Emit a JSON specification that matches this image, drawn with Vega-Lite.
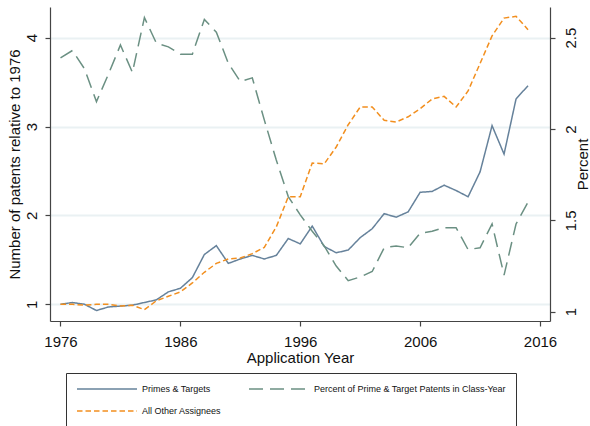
{
  "$schema": "https://vega.github.io/schema/vega-lite/v6.json",
  "width": 500,
  "height": 314,
  "autosize": {"type": "none"},
  "padding": {"left": 50, "top": 7, "right": 40, "bottom": 105},
  "background": "white",
  "config": {
    "view": {"stroke": null},
    "font": "Liberation Sans",
    "axis": {"domainColor": "#444", "tickColor": "#444", "labelColor": "#111", "titleColor": "#111", "labelFontSize": 15, "titleFontSize": 15, "titleFontWeight": "normal", "tickSize": 5, "domainWidth": 1.2, "tickWidth": 1.2},
    "legend": {
      "title": null, "orient": "none", "legendX": 16, "legendY": 366,
      "columns": 2, "symbolType": "M-1,0H11", "symbolSize": 100, "symbolStrokeWidth": 1.5,
      "labelFontSize": 9, "labelColor": "#111", "labelOffset": 54,
      "strokeColor": "#333", "padding": 10, "columnPadding": 24, "rowPadding": 11,
      "fillColor": "white", "labelLimit": 400
    }
  },
  "datasets": {
    "main": [
      {"year":1976,"p":1.00,"o":1.00,"c":2.39},
      {"year":1977,"p":1.02,"o":1.00,"c":2.43},
      {"year":1978,"p":1.00,"o":0.99,"c":2.33},
      {"year":1979,"p":0.93,"o":1.00,"c":2.15},
      {"year":1980,"p":0.97,"o":1.00,"c":2.30},
      {"year":1981,"p":0.98,"o":0.98,"c":2.46},
      {"year":1982,"p":0.99,"o":0.99,"c":2.31},
      {"year":1983,"p":1.02,"o":0.94,"c":2.61},
      {"year":1984,"p":1.05,"o":1.04,"c":2.47},
      {"year":1985,"p":1.14,"o":1.09,"c":2.45},
      {"year":1986,"p":1.18,"o":1.14,"c":2.41},
      {"year":1987,"p":1.30,"o":1.24,"c":2.41},
      {"year":1988,"p":1.56,"o":1.36,"c":2.60},
      {"year":1989,"p":1.66,"o":1.46,"c":2.53},
      {"year":1990,"p":1.46,"o":1.51,"c":2.36},
      {"year":1991,"p":1.51,"o":1.52,"c":2.26},
      {"year":1992,"p":1.55,"o":1.57,"c":2.28},
      {"year":1993,"p":1.51,"o":1.64,"c":2.05},
      {"year":1994,"p":1.55,"o":1.87,"c":1.83},
      {"year":1995,"p":1.74,"o":2.21,"c":1.63},
      {"year":1996,"p":1.68,"o":2.21,"c":1.53},
      {"year":1997,"p":1.88,"o":2.59,"c":1.44},
      {"year":1998,"p":1.65,"o":2.58,"c":1.36},
      {"year":1999,"p":1.58,"o":2.77,"c":1.25},
      {"year":2000,"p":1.61,"o":3.02,"c":1.17},
      {"year":2001,"p":1.75,"o":3.22,"c":1.19},
      {"year":2002,"p":1.85,"o":3.22,"c":1.22},
      {"year":2003,"p":2.02,"o":3.07,"c":1.35},
      {"year":2004,"p":1.98,"o":3.05,"c":1.36},
      {"year":2005,"p":2.04,"o":3.11,"c":1.35},
      {"year":2006,"p":2.26,"o":3.20,"c":1.43},
      {"year":2007,"p":2.27,"o":3.31,"c":1.44},
      {"year":2008,"p":2.34,"o":3.34,"c":1.46},
      {"year":2009,"p":2.28,"o":3.22,"c":1.46},
      {"year":2010,"p":2.21,"o":3.40,"c":1.34},
      {"year":2011,"p":2.49,"o":3.71,"c":1.35},
      {"year":2012,"p":3.01,"o":4.02,"c":1.48},
      {"year":2013,"p":2.69,"o":4.22,"c":1.20},
      {"year":2014,"p":3.31,"o":4.24,"c":1.48},
      {"year":2015,"p":3.46,"o":4.09,"c":1.60}
    ]
  },
  "data": {"name": "main"},
  "transform": [
    {"fold": ["p", "o", "c"], "as": ["key", "value"]},
    {"calculate": "datum.key === 'p' ? 'Primes & Targets' : datum.key === 'o' ? 'All Other Assignees' : 'Percent of Prime & Target Patents in Class-Year'", "as": "series"}
  ],
  "encoding": {
    "x": {
      "field": "year", "type": "quantitative",
      "scale": {"domain": [1975.125, 2016.833], "nice": false, "zero": false},
      "axis": {"values": [1976, 1986, 1996, 2006, 2016], "title": "Application Year", "grid": false, "format": "d", "labelPadding": 8, "titlePadding": 1, "labelFlush": false}
    },
    "color": {
      "field": "series", "type": "nominal",
      "scale": {"domain": ["Primes & Targets", "All Other Assignees", "Percent of Prime & Target Patents in Class-Year"], "range": ["#66829b", "#f28f1f", "#6b9083"]}
    },
    "strokeDash": {
      "field": "series", "type": "nominal",
      "scale": {"domain": ["Primes & Targets", "All Other Assignees", "Percent of Prime & Target Patents in Class-Year"], "range": [[1, 0], [5.5, 3], [14, 7]]}
    }
  },
  "layer": [
    {
      "transform": [{"filter": "datum.key !== 'c'"}],
      "mark": {"type": "line", "strokeWidth": 1.5},
      "encoding": {
        "y": {
          "field": "value", "type": "quantitative",
          "scale": {"domain": [0.812, 4.345], "nice": false, "zero": false},
          "axis": {"values": [1, 2, 3, 4], "title": "Number of patents relative to 1976", "grid": true, "gridColor": "#eaf1f3", "gridWidth": 2, "labelAngle": -90, "labelAlign": "center", "labelBaseline": "bottom", "labelPadding": 6, "titlePadding": 2}
        }
      }
    },
    {
      "transform": [{"filter": "datum.key === 'c'"}],
      "mark": {"type": "line", "strokeWidth": 1.5},
      "encoding": {
        "y": {
          "field": "value", "type": "quantitative",
          "scale": {"domain": [0.949, 2.668], "nice": false, "zero": false},
          "axis": {"orient": "right", "values": [1, 1.5, 2, 2.5], "format": "~g", "title": "Percent", "grid": false, "labelAngle": -90, "labelAlign": "center", "labelBaseline": "top", "labelPadding": 8, "titleAngle": -90, "titleBaseline": "top", "titlePadding": -3}
        }
      }
    }
  ],
  "resolve": {"scale": {"y": "independent"}}
}
